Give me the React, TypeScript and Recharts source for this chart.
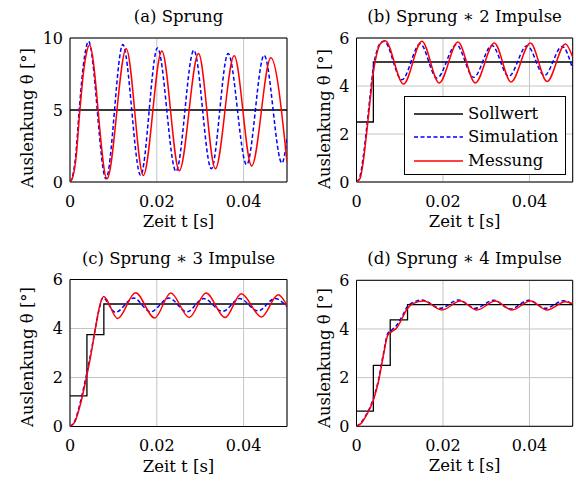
import React from 'react';
import { LineChart, Line, XAxis, YAxis, CartesianGrid, ReferenceArea, Legend } from 'recharts';

// Sprungantworten: Sollwert / Simulation / Messung
// Paare: [Zeit t in s, Auslenkung in °]

const timeTicks = [0, 0.02, 0.04];
const ticksA = [0, 5, 10];
const ticksBCD = [0, 2, 4, 6];
const legendOrder = ['Sollwert', 'Simulation', 'Messung'];

const sollA: [number, number][] = [[0, 5], [0.05, 5]];
const simA: [number, number][] = [
  [0, 0], [0.0006, 0.4], [0.0013, 1.8], [0.0021, 4.9], [0.003, 7.9], [0.0037, 9.3], [0.00426, 9.77],
  [0.00829, 0.23], [0.01217, 9.54], [0.01628, 0.46], [0.02016, 9.31], [0.02442, 0.74], [0.02853, 9.15],
  [0.03256, 0.92], [0.03643, 8.92], [0.0407, 1.2], [0.04473, 8.8], [0.04884, 1.31], [0.05, 3.0],
];
const mesA: [number, number][] = [
  [0, 0], [0.0007, 0.4], [0.0014, 1.7], [0.0022, 4.7], [0.0031, 7.6], [0.0039, 9.1], [0.0045, 9.49],
  [0.00853, 0.23], [0.01295, 9.26], [0.0169, 0.46], [0.02116, 9.1], [0.02519, 0.78], [0.02961, 8.92],
  [0.03349, 0.92], [0.03783, 8.76], [0.04186, 1.11], [0.04628, 8.62], [0.05, 1.38],
];

const sollB: [number, number][] = [[0, 2.5], [0.0039, 5], [0.05, 5]];
const simB: [number, number][] = [
  [0, 0], [0.00083, 0.25], [0.0016, 1.1], [0.00238, 2.3], [0.00315, 3.6], [0.00392, 4.8], [0.0047, 5.45],
  [0.00547, 5.78], [0.00639, 5.86], [0.01049, 4.26], [0.01473, 5.76], [0.01859, 4.33], [0.02307, 5.72],
  [0.02709, 4.36], [0.03133, 5.69], [0.03519, 4.4], [0.03944, 5.68], [0.04346, 4.44], [0.04755, 5.65],
  [0.05, 4.7],
];
const mesB: [number, number][] = [
  [0, 0], [0.00083, 0.15], [0.0016, 0.9], [0.00238, 2.1], [0.00315, 3.4], [0.00392, 4.6], [0.0047, 5.35],
  [0.00547, 5.75], [0.00663, 5.89], [0.01087, 4.08], [0.01512, 5.86], [0.01913, 4.13], [0.02346, 5.83],
  [0.02747, 4.13], [0.03187, 5.79], [0.03574, 4.17], [0.04021, 5.79], [0.04407, 4.19], [0.04832, 5.75],
  [0.05, 5.2],
];

const sollC: [number, number][] = [[0, 1.25], [0.0039, 3.75], [0.0078, 5], [0.05, 5]];
const simC: [number, number][] = [
  [0, 0], [0.00116, 0.25], [0.00232, 0.95], [0.00348, 1.85], [0.00464, 2.85], [0.0058, 3.95], [0.00681, 4.85],
  [0.00758, 5.26], [0.01044, 4.66], [0.0147, 5.24], [0.01857, 4.68], [0.02282, 5.24], [0.02692, 4.68],
  [0.03079, 5.22], [0.0352, 4.7], [0.03907, 5.22], [0.04333, 4.72], [0.0472, 5.22], [0.05, 4.9],
];
const mesC: [number, number][] = [
  [0, 0], [0.00116, 0.2], [0.00232, 0.85], [0.00348, 1.75], [0.00464, 2.75], [0.0058, 3.95], [0.00681, 4.9],
  [0.00774, 5.31], [0.01099, 4.41], [0.01509, 5.46], [0.0195, 4.43], [0.02321, 5.45], [0.02747, 4.45],
  [0.03133, 5.45], [0.03574, 4.45], [0.03946, 5.42], [0.0441, 4.47], [0.04797, 5.38], [0.05, 4.95],
];

const sollD: [number, number][] = [[0, 0.625], [0.0039, 2.5], [0.0078, 4.375], [0.0118, 5], [0.05, 5]];
const simD: [number, number][] = [
  [0, 0], [0.00122, 0.19], [0.00199, 0.4], [0.00392, 1.15], [0.00508, 1.9], [0.00624, 3.0], [0.00724, 3.82],
  [0.00817, 3.96], [0.00933, 4.16], [0.01049, 4.5], [0.01164, 4.88], [0.01319, 5.1], [0.01512, 5.19],
  [0.01937, 4.85], [0.02361, 5.19], [0.02747, 4.85], [0.03172, 5.18], [0.03558, 4.82], [0.03983, 5.18],
  [0.0437, 4.85], [0.04794, 5.16], [0.05, 5.01],
];
const mesD: [number, number][] = [
  [0, 0], [0.00122, 0.15], [0.00199, 0.36], [0.00392, 1.08], [0.00508, 1.84], [0.00624, 2.93], [0.00724, 3.75],
  [0.00817, 3.89], [0.00933, 4.05], [0.01049, 4.41], [0.01164, 4.81], [0.01319, 5.05], [0.0155, 5.15],
  [0.01975, 4.78], [0.024, 5.15], [0.02786, 4.78], [0.0321, 5.15], [0.03597, 4.78], [0.04021, 5.15],
  [0.04407, 4.78], [0.04832, 5.12], [0.05, 5.03],
];

const FONT = '"DejaVu Serif", serif';
const toPts = (arr: [number, number][]) => arr.map(([t, v]) => ({ t, v }));

const lineStyle: Record<string, { color: string; dash?: string }> = {
  Sollwert: { color: '#000000' },
  Simulation: { color: '#0000ff', dash: '4 2.5' },
  Messung: { color: '#ff0000' },
};

const renderLegend = (props: any) => {
  const payload = [...(props.payload || [])].sort(
    (a: any, b: any) => legendOrder.indexOf(a.value) - legendOrder.indexOf(b.value),
  );
  return (
    <div style={{ border: '1px solid #000', background: '#fff', width: 162, height: 79, boxSizing: 'border-box', paddingTop: 5, fontFamily: FONT }}>
      {payload.map((p: any) => {
        const s = lineStyle[p.value] || { color: p.color };
        return (
          <div key={p.value} style={{ display: 'flex', alignItems: 'center', height: 23.5 }}>
            <svg width={63} height={10} style={{ display: 'block' }}>
              <line x1={9} x2={58} y1={5} y2={5} stroke={s.color} strokeWidth={1.3} strokeDasharray={s.dash} />
            </svg>
            <span style={{ fontSize: 16.5, color: '#000', lineHeight: '20px' }}>{p.value}</span>
          </div>
        );
      })}
    </div>
  );
};

interface PanelProps {
  title: string;
  box: { L: number; T: number; W: number; H: number };
  plot: { left: number; top: number; right: number; bottom: number };
  yMax: number;
  yTicks: number[];
  yLabel: { x: number; y: number };
  soll: [number, number][];
  sim: [number, number][];
  mes: [number, number][];
  sollType: 'linear' | 'stepAfter';
  legend?: boolean;
}

function Panel({ title, box, plot, yMax, yTicks, yLabel, soll, sim, mes, sollType, legend }: PanelProps) {
  const yAxisW = 60;
  const margin = {
    top: plot.top - box.T,
    right: box.L + box.W - plot.right,
    left: plot.left - box.L - yAxisW,
    bottom: 0,
  };
  const xAxisH = box.T + box.H - plot.bottom;
  const tick = { fill: '#000', fontSize: 16, fontFamily: FONT };
  // label positions in chart coordinates
  const xlX = (plot.left + plot.right) / 2 - box.L;
  const xlY = plot.bottom - box.T + 45;
  const ylX = yLabel.x - box.L;
  const ylY = yLabel.y - box.T;
  return (
    <div style={{ position: 'absolute', left: box.L, top: box.T, width: box.W, height: box.H }}>
      <div
        style={{
          position: 'absolute', left: plot.left - box.L, top: plot.top - box.T - 31, width: plot.right - plot.left,
          height: 20, lineHeight: '20px', textAlign: 'center', fontSize: 16.5, fontFamily: FONT, color: '#000',
          whiteSpace: 'nowrap',
        }}
      >
        {title}
      </div>
      <LineChart width={box.W} height={box.H} margin={margin}>
        <CartesianGrid stroke="#c4c4c4" strokeWidth={1} />
        <XAxis
          dataKey="t" type="number" domain={[0, 0.05]} ticks={timeTicks} allowDataOverflow
          height={xAxisH} axisLine={false} tickLine={false} tickSize={0} tickMargin={13.6} tick={tick}
          label={{
            content: () => (
              <text x={xlX} y={xlY} textAnchor="middle" fill="#000" fontSize={16.5} fontFamily={FONT}>
                Zeit t [s]
              </text>
            ),
          }}
        />
        <YAxis
          type="number" domain={[0, yMax]} ticks={yTicks} allowDataOverflow width={yAxisW}
          axisLine={false} tickLine={false} tickSize={0} tickMargin={7} tick={tick}
          label={{
            content: () => (
              <text
                x={ylX} y={ylY} transform={`rotate(-90 ${ylX} ${ylY})`} textAnchor="middle" dominantBaseline="central"
                fill="#000" fontSize={16.5} fontFamily={FONT}
              >
                Auslenkung θ [°]
              </text>
            ),
          }}
        />
        <ReferenceArea x1={0} x2={0.05} y1={0} y2={yMax} fill="none" stroke="#000" strokeWidth={1} ifOverflow="visible" />
        <Line data={toPts(soll)} dataKey="v" name="Sollwert" type={sollType} stroke="#000" strokeWidth={1.3} dot={false} isAnimationActive={false} />
        <Line data={toPts(sim)} dataKey="v" name="Simulation" type="monotone" stroke="#0000ff" strokeWidth={1.5} strokeDasharray="4 2.5" dot={false} isAnimationActive={false} />
        <Line data={toPts(mes)} dataKey="v" name="Messung" type="monotone" stroke="#ff0000" strokeWidth={1.5} dot={false} isAnimationActive={false} />
        {legend && (
          <Legend
            layout="vertical" align="center" verticalAlign="middle" content={renderLegend}
            wrapperStyle={{ left: 404 - box.L, top: 96 - box.T, width: 162 }}
          />
        )}
      </LineChart>
    </div>
  );
}

export default function App() {
  return (
    <div style={{ position: 'absolute', left: 0, top: 0, width: 576, height: 481, background: '#fff', fontFamily: FONT }}>
      <Panel
        title="(a) Sprung" box={{ L: 0, T: 0, W: 290, H: 240 }} plot={{ left: 70, top: 38, right: 287, bottom: 182 }}
        yMax={10} yTicks={ticksA} yLabel={{ x: 27, y: 118 }} soll={sollA} sim={simA} mes={mesA} sollType="linear"
      />
      <Panel
        title="(b) Sprung ∗ 2 Impulse" box={{ L: 290, T: 0, W: 286, H: 240 }} plot={{ left: 356.5, top: 38, right: 572.7, bottom: 182 }}
        yMax={6} yTicks={ticksBCD} yLabel={{ x: 324, y: 119 }} soll={sollB} sim={simB} mes={mesB} sollType="stepAfter" legend
      />
      <Panel
        title="(c) Sprung ∗ 3 Impulse" box={{ L: 0, T: 242, W: 290, H: 239 }} plot={{ left: 70, top: 279.5, right: 287, bottom: 426.5 }}
        yMax={6} yTicks={ticksBCD} yLabel={{ x: 27.5, y: 357 }} soll={sollC} sim={simC} mes={mesC} sollType="stepAfter"
      />
      <Panel
        title="(d) Sprung ∗ 4 Impulse" box={{ L: 290, T: 242, W: 286, H: 239 }} plot={{ left: 356.5, top: 280.3, right: 572.7, bottom: 426.3 }}
        yMax={6} yTicks={ticksBCD} yLabel={{ x: 324, y: 358 }} soll={sollD} sim={simD} mes={mesD} sollType="stepAfter"
      />
    </div>
  );
}
